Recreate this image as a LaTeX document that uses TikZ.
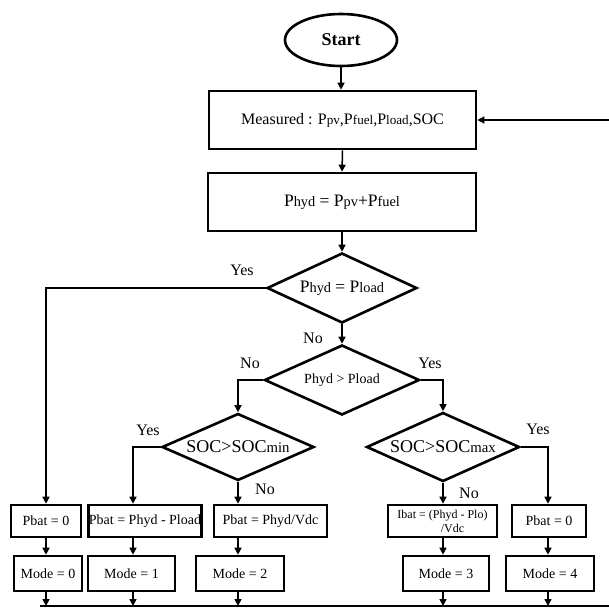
\documentclass[tikz,border=0pt]{standalone}
\usepackage{fontspec}
\usepackage{graphicx}
\setmainfont{Liberation Serif}
\usetikzlibrary{shapes.geometric,arrows.meta}
\newcommand\lo[1]{\scalebox{0.82}{#1}}
\newcommand\fs[1]{\fontsize{#1}{#1}\selectfont}
\tikzset{
  boxnode/.style={draw,line width=2.6pt,rectangle,inner sep=0pt,fill=white},
  dianode/.style={draw,line width=2.6pt,diamond,inner sep=0pt},
  arr/.style={line width=1.5pt,-{Triangle[length=7pt,width=7pt]}},
  ln/.style={line width=1.5pt},
  lbl/.style={inner sep=0pt,font=\fs{16}}
}
\begin{document}
\begin{tikzpicture}[x=1pt,y=-1pt]
\useasboundingbox (0,0) rectangle (608,615);
% nodes
\node[draw,line width=2.6pt,ellipse,minimum width=112pt,minimum height=52pt,inner sep=0pt,font=\fs{18}\bfseries] (start) at (341,40) {Start};
\node[boxnode,minimum width=267pt,minimum height=58pt,font=\fs{16}] (meas) at (342.5,120) {Measured : P\lo{pv},P\lo{fuel},P\lo{load},SOC};
\node[boxnode,minimum width=268pt,minimum height=58pt,font=\fs{17.5}] (phyd) at (342,202) {P\lo{hyd} = P\lo{pv}+P\lo{fuel}};
\node[dianode,minimum width=150pt,minimum height=70pt,aspect=2.14,font=\fs{17.5}] (d1) at (342,288) {P\lo{hyd} = P\lo{load}};
\node[dianode,minimum width=155pt,minimum height=70pt,aspect=2.2,font=\fs{14}] (d2) at (342,380) {Phyd > Pload};
\node[dianode,minimum width=152pt,minimum height=67pt,aspect=2.27,font=\fs{18}] (d3) at (238,447) {SOC>SOC\lo{min}};
\node[dianode,minimum width=153pt,minimum height=69pt,aspect=2.2,font=\fs{18}] (d4) at (443,447) {SOC>SOC\lo{max}};
% first row boxes
\node[boxnode,minimum width=70pt,minimum height=32pt,font=\fs{14}] (b0) at (46,521) {Pbat = 0};
\node[boxnode,minimum width=113pt,minimum height=32pt,font=\fs{14}] (b1) at (145,521) {Pbat = Phyd - Pload};
\node[boxnode,minimum width=113pt,minimum height=32pt,font=\fs{14}] (b2) at (270.5,521) {Pbat = Phyd/Vdc};
\node[boxnode,minimum width=109pt,minimum height=32pt,font=\fontsize{12}{14}\selectfont,align=center] (b3) at (442.5,521) {Ibat = (Phyd - Plo)\\\hspace*{20pt}/Vdc};
\node[boxnode,minimum width=74pt,minimum height=32pt,font=\fs{14}] (b4) at (549,521) {Pbat = 0};
% second row boxes
\node[boxnode,minimum width=68pt,minimum height=35pt,font=\fs{14}] (m0) at (48,573.5) {Mode = 0};
\node[boxnode,minimum width=87pt,minimum height=35pt,font=\fs{14}] (m1) at (131.5,573.5) {Mode = 1};
\node[boxnode,minimum width=88pt,minimum height=35pt,font=\fs{14}] (m2) at (240,573.5) {Mode = 2};
\node[boxnode,minimum width=86pt,minimum height=35pt,font=\fs{14}] (m3) at (446,573.5) {Mode = 3};
\node[boxnode,minimum width=88pt,minimum height=35pt,font=\fs{14}] (m4) at (550,573.5) {Mode = 4};
% column coordinates
\coordinate (c0) at (46,0);
\coordinate (c1) at (133,0);
\coordinate (c2) at (238,0);
\coordinate (c3) at (443,0);
\coordinate (c4) at (548,0);
\coordinate (bl) at (40,606);
\coordinate (br) at (614,606);
\coordinate (tr) at (614,120);
% connectors
\draw[arr] (start.south) -- (start.south |- meas.north);
\draw[arr] (meas.south) -- (phyd.north);
\draw[arr] (phyd.south) -- (d1.north);
\draw[arr] (d1.south) -- (d2.north);
\draw[arr] (d1.west) -- (d1.west -| c0) -- (c0 |- b0.north);
\draw[arr] (d2.west) -| (d3.north);
\draw[arr] (d2.east) -| (d4.north);
\draw[arr] (d3.west) -| (c1 |- b1.north);
\draw[arr] (d3.south) -- (c2 |- b2.north);
\draw[arr] (d4.south) -- (c3 |- b3.north);
\draw[arr] (d4.east) -| (c4 |- b4.north);
\draw[arr] (c0 |- b0.south) -- (c0 |- m0.north);
\draw[arr] (c1 |- b1.south) -- (c1 |- m1.north);
\draw[arr] (c2 |- b2.south) -- (c2 |- m2.north);
\draw[arr] (c3 |- b3.south) -- (c3 |- m3.north);
\draw[arr] (c4 |- b4.south) -- (c4 |- m4.north);
\draw[arr] (c0 |- m0.south) -- (c0 |- bl);
\draw[arr] (c1 |- m1.south) -- (c1 |- bl);
\draw[arr] (c2 |- m2.south) -- (c2 |- bl);
\draw[arr] (c3 |- m3.south) -- (c3 |- bl);
\draw[arr] (c4 |- m4.south) -- (c4 |- bl);
\draw[ln] (bl) -- (br) -- (tr);
\draw[arr] (tr) -- (meas.east);
% labels
\node[lbl] (y1) at (242,270) {Yes};
\node[lbl] (n1) at (313,338) {No};
\node[lbl] (n2) at (250,363) {No};
\node[lbl] (y2) at (430,363) {Yes};
\node[lbl] (y3) at (148,430) {Yes};
\node[lbl] (n3) at (265,489) {No};
\node[lbl] (y4) at (538,429) {Yes};
\node[lbl] (n4) at (469,493) {No};
\end{tikzpicture}
\end{document}
